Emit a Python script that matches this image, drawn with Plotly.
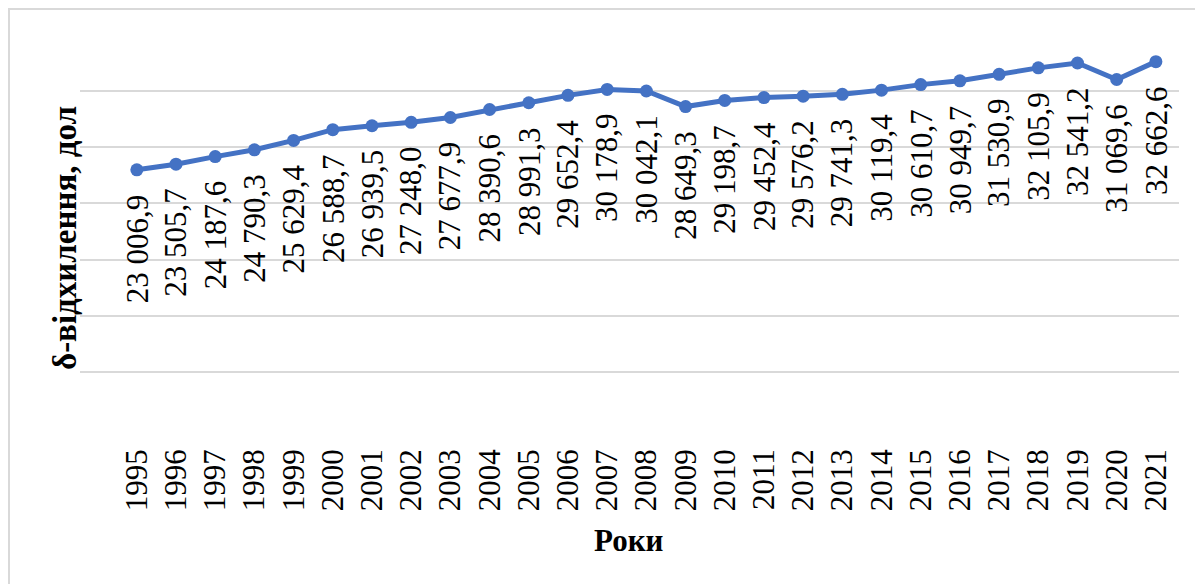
import plotly.graph_objects as go

years = [str(y) for y in range(1995, 2022)]
values = [23006.9, 23505.7, 24187.6, 24790.3, 25629.4, 26588.7, 26939.5, 27248.0,
          27677.9, 28390.6, 28991.3, 29652.4, 30178.9, 30042.1, 28649.3, 29198.7,
          29452.4, 29576.2, 29741.3, 30119.4, 30610.7, 30949.7, 31530.9, 32105.9,
          32541.2, 31069.6, 32662.6]
labels = ["23 006,9", "23 505,7", "24 187,6", "24 790,3", "25 629,4", "26 588,7",
          "26 939,5", "27 248,0", "27 677,9", "28 390,6", "28 991,3", "29 652,4",
          "30 178,9", "30 042,1", "28 649,3", "29 198,7", "29 452,4", "29 576,2",
          "29 741,3", "30 119,4", "30 610,7", "30 949,7", "31 530,9", "32 105,9",
          "32 541,2", "31 069,6", "32 662,6"]
y_title = "δ-відхилення, дол"
x_title = "Роки"

FONT = "Liberation Serif, Times New Roman, serif"
BLUE = "#4472C4"
GRID = "#D9D9D9"

fig = go.Figure()
fig.add_trace(go.Scatter(
    x=years, y=values, mode="lines+markers",
    line=dict(color=BLUE, width=5),
    marker=dict(color=BLUE, size=13),
    hoverinfo="x+y", showlegend=False,
))

for i, (v, t) in enumerate(zip(values, labels)):
    fig.add_annotation(x=i, y=v, xref="x", yref="y", text=t, textangle=-90,
                       showarrow=False, xanchor="center", yanchor="top", yshift=-22,
                       font=dict(family=FONT, size=31, color="black"))

# figure sits inside the page body (8px offset), so coordinates are page - 8
W, H = 1195, 576
L, R, T, B = 72, 24, 27, 156
pw = W - L - R
ph = H - T - B

fig.add_annotation(text="<b>" + y_title + "</b>", textangle=-90, showarrow=False,
                   xref="paper", yref="paper", x=(57 - L) / pw, y=(H - B - 230) / ph,
                   xanchor="center", yanchor="middle",
                   font=dict(family=FONT, size=33, color="black"))
fig.add_annotation(text="<b>" + x_title + "</b>", showarrow=False,
                   xref="paper", yref="paper", x=(621 - L) / pw, y=(H - B - 532) / ph,
                   xanchor="center", yanchor="middle",
                   font=dict(family=FONT, size=31, color="black"))

fig.add_shape(type="rect", xref="paper", yref="paper",
              x0=(1 - L) / pw, x1=(W + 20 - L) / pw,
              y0=(H - B - (H + 20)) / ph, y1=(H - B - 1) / ph,
              line=dict(color="#D9D9D9", width=2), fillcolor="rgba(0,0,0,0)", layer="below")

fig.update_layout(
    width=W, height=H,
    margin=dict(l=L, r=R, t=T, b=B, pad=0),
    paper_bgcolor="white", plot_bgcolor="white",
    font=dict(family=FONT, color="black"),
    xaxis=dict(type="category", range=[-1.45, 26.59], showgrid=False,
               tickangle=-90, tickfont=dict(family=FONT, size=31, color="black"),
               ticks="", showline=False, zeroline=False, ticklabelstandoff=14,
               automargin=False),
    yaxis=dict(range=[-40, 35040], dtick=5000, tick0=0, showgrid=True, gridcolor=GRID,
               gridwidth=2, showticklabels=False, zeroline=False, ticks="",
               fixedrange=True, automargin=False),
)

fig.write_html("out.html")
